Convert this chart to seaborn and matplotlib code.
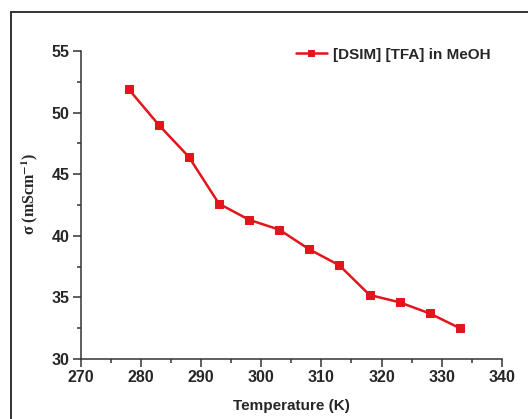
import matplotlib
matplotlib.use("Agg")
import matplotlib.pyplot as plt
from matplotlib.lines import Line2D
from matplotlib.ticker import MultipleLocator
import seaborn as sns
import pandas as pd

temperature = [278, 283, 288, 293, 298, 303, 308, 313, 318, 323, 328, 333]
conductivity = [51.9, 49.0, 46.4, 42.6, 41.3, 40.5, 38.9, 37.6, 35.2, 34.6, 33.7, 32.5]
series_label = "[DSIM] [TFA] in MeOH"

sns.set_style("ticks")
plt.rcParams["font.family"] = ["Liberation Sans", "DejaVu Sans"]
plt.rcParams["mathtext.fontset"] = "stix"

df = pd.DataFrame({"T": temperature, "sigma": conductivity})

fig = plt.figure(figsize=(5.28, 4.19), dpi=100)
ax = fig.add_axes([80.5 / 528, 1 - 359 / 419, (502 - 80.5) / 528, (359 - 51) / 419])

sns.lineplot(data=df, x="T", y="sigma", ax=ax, color="#e3141b", marker="s",
             markersize=6, markeredgecolor="#e3141b", linewidth=1.8,
             label=series_label)

ax.set_xlim(270, 340)
ax.set_ylim(30, 55)
ax.xaxis.set_major_locator(MultipleLocator(10))
ax.xaxis.set_minor_locator(MultipleLocator(5))
ax.yaxis.set_major_locator(MultipleLocator(5))
ax.yaxis.set_minor_locator(MultipleLocator(2.5))
ax.tick_params(which="major", length=6, width=1.1, color="#333333", labelsize=11.5, pad=2)
ax.tick_params(which="minor", length=3, width=1.1, color="#333333")
for lab in ax.get_xticklabels() + ax.get_yticklabels():
    lab.set_fontweight("bold")

sns.despine(ax=ax)
for side in ("left", "bottom"):
    ax.spines[side].set_linewidth(1.1)
    ax.spines[side].set_color("#333333")

ax.set_xlabel("Temperature (K)", fontsize=11, fontweight="bold", labelpad=10)
ax.set_ylabel("σ (mScm$^{\\mathbf{-1}}$)", fontsize=11.5, fontweight="bold",
              family=["Liberation Serif"])
ax.yaxis.set_label_coords(-0.097, 0.535)

leg = ax.legend(loc="upper right", bbox_to_anchor=(1.005, 1.055), frameon=False,
                fontsize=11, handlelength=2.0, handletextpad=0.4)
for t in leg.get_texts():
    t.set_fontweight("bold")
for h in leg.legend_handles:
    h.set_markersize(5)

# outer frame around the figure
fig.add_artist(Line2D([10.5 / 528, 10.5 / 528], [0, 1 - 12 / 419], transform=fig.transFigure,
                      color="#333333", linewidth=1.4))
fig.add_artist(Line2D([10.5 / 528, 1], [1 - 12 / 419, 1 - 12 / 419], transform=fig.transFigure,
                      color="#333333", linewidth=1.4))

fig.savefig("out.png", dpi=100)
